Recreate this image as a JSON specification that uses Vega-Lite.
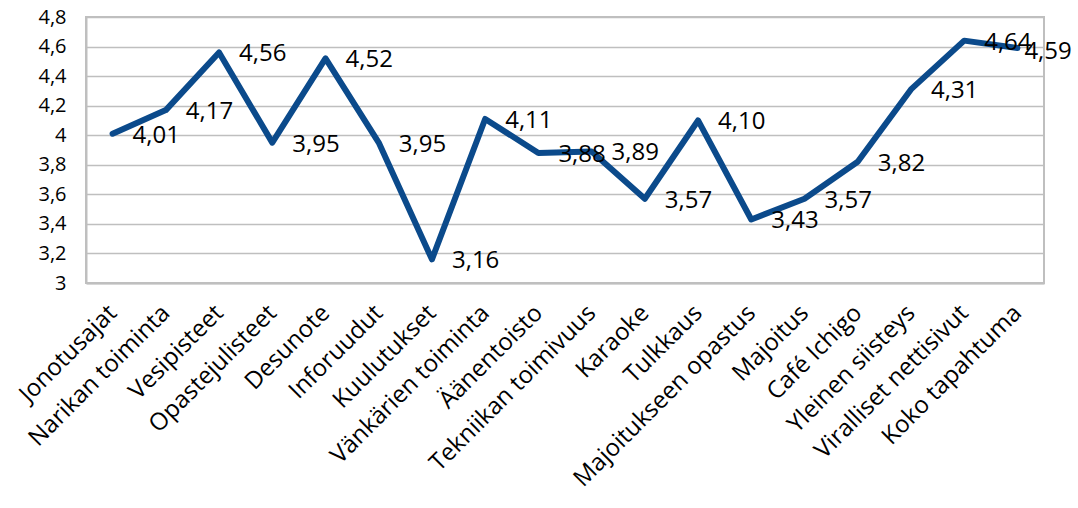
{
  "$schema": "https://vega.github.io/schema/vega-lite/v6.json",
  "width": 958,
  "height": 266,
  "autosize": "none",
  "padding": {"left": 86, "top": 17, "right": 34, "bottom": 225},
  "background": "white",
  "data": {
    "values": [
      {"kohde": "Jonotusajat", "arvo": 4.01},
      {"kohde": "Narikan toiminta", "arvo": 4.17},
      {"kohde": "Vesipisteet", "arvo": 4.56},
      {"kohde": "Opastejulisteet", "arvo": 3.95},
      {"kohde": "Desunote", "arvo": 4.52},
      {"kohde": "Inforuudut", "arvo": 3.95},
      {"kohde": "Kuulutukset", "arvo": 3.16},
      {"kohde": "Vänkärien toiminta", "arvo": 4.11},
      {"kohde": "Äänentoisto", "arvo": 3.88},
      {"kohde": "Tekniikan toimivuus", "arvo": 3.89},
      {"kohde": "Karaoke", "arvo": 3.57},
      {"kohde": "Tulkkaus", "arvo": 4.10},
      {"kohde": "Majoitukseen opastus", "arvo": 3.43},
      {"kohde": "Majoitus", "arvo": 3.57},
      {"kohde": "Café Ichigo", "arvo": 3.82},
      {"kohde": "Yleinen siisteys", "arvo": 4.31},
      {"kohde": "Viralliset nettisivut", "arvo": 4.64},
      {"kohde": "Koko tapahtuma", "arvo": 4.59}
    ]
  },
  "encoding": {
    "x": {
      "field": "kohde",
      "type": "nominal",
      "sort": null,
      "scale": {"type": "point", "padding": 0.5},
      "axis": {
        "title": null,
        "labelAngle": -45,
        "labelAlign": "right",
        "labelBaseline": "middle",
        "labelPadding": 26,
        "labelFont": "Open Sans",
        "labelFontSize": 24,
        "labelColor": "#000000",
        "labelLimit": 400,
        "ticks": false,
        "domainColor": "#BFBFBF",
        "domainWidth": 2,
        "grid": false
      }
    },
    "y": {
      "field": "arvo",
      "type": "quantitative",
      "scale": {"domain": [3, 4.8], "nice": false, "zero": false},
      "axis": {
        "title": null,
        "values": [3, 3.2, 3.4, 3.6, 3.8, 4, 4.2, 4.4, 4.6, 4.8],
        "format": ".1~f",
        "labelFont": "Open Sans",
        "labelFontSize": 20,
        "labelColor": "#000000",
        "labelPadding": 20,
        "ticks": false,
        "domainColor": "#BFBFBF",
        "domainWidth": 2,
        "gridColor": "#BFBFBF",
        "gridWidth": 1.5
      }
    }
  },
  "layer": [
    {
      "mark": {
        "type": "line",
        "color": "#0B4A8B",
        "strokeWidth": 6,
        "strokeJoin": "round",
        "strokeCap": "round"
      }
    },
    {
      "transform": [{"filter": "datum.kohde !== 'Koko tapahtuma'"}],
      "mark": {
        "type": "text",
        "align": "left",
        "baseline": "middle",
        "dx": 20,
        "dy": 2,
        "font": "Open Sans",
        "fontSize": 24,
        "color": "#000000"
      },
      "encoding": {
        "text": {"field": "arvo", "type": "quantitative", "format": ".2f"}
      }
    },
    {
      "transform": [{"filter": "datum.kohde === 'Koko tapahtuma'"}],
      "mark": {
        "type": "text",
        "align": "left",
        "baseline": "middle",
        "dx": 7,
        "dy": 4,
        "font": "Open Sans",
        "fontSize": 24,
        "color": "#000000"
      },
      "encoding": {
        "text": {"field": "arvo", "type": "quantitative", "format": ".2f"}
      }
    }
  ],
  "config": {
    "locale": {
      "number": {
        "decimal": ",",
        "thousands": " ",
        "grouping": [3],
        "currency": ["", " €"]
      }
    },
    "view": {"stroke": "#BFBFBF", "strokeWidth": 2}
  }
}
